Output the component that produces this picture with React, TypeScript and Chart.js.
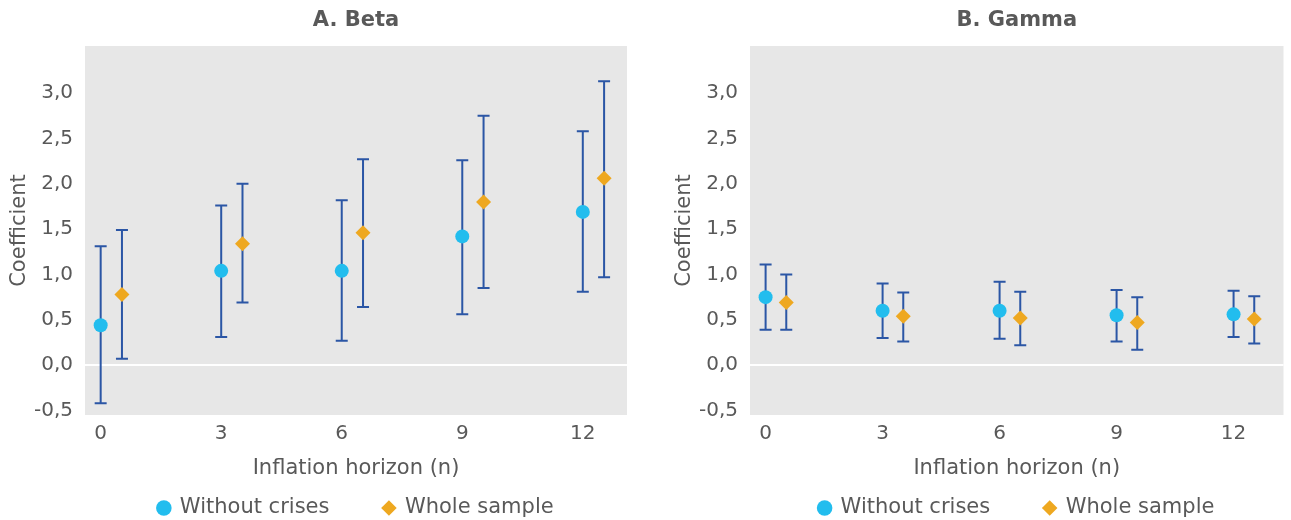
import React, { useEffect, useRef } from 'react';
import { Chart, registerables } from 'chart.js';

Chart.register(...registerables);

// ---- Data ----
const HORIZONS = [0, 3, 6, 9, 12];
const Y_TICKS = [-0.5, 0, 0.5, 1, 1.5, 2, 2.5, 3];
const SERIES_NAMES = ['Without crises', 'Whole sample'];
const X_TITLE = 'Inflation horizon (n)';
const Y_TITLE = 'Coefficient';

const BETA_WITHOUT = [0.44, 1.04, 1.04, 1.42, 1.69];
const BETA_WITHOUT_LOW = [-0.42, 0.31, 0.27, 0.56, 0.81];
const BETA_WITHOUT_HIGH = [1.31, 1.76, 1.82, 2.26, 2.58];
const BETA_WHOLE = [0.78, 1.34, 1.46, 1.8, 2.06];
const BETA_WHOLE_LOW = [0.07, 0.69, 0.64, 0.85, 0.97];
const BETA_WHOLE_HIGH = [1.49, 2.0, 2.27, 2.75, 3.13];

const GAMMA_WITHOUT = [0.75, 0.6, 0.6, 0.55, 0.56];
const GAMMA_WITHOUT_LOW = [0.39, 0.3, 0.29, 0.26, 0.31];
const GAMMA_WITHOUT_HIGH = [1.11, 0.9, 0.92, 0.83, 0.82];
const GAMMA_WHOLE = [0.69, 0.54, 0.52, 0.47, 0.51];
const GAMMA_WHOLE_LOW = [0.39, 0.26, 0.22, 0.17, 0.24];
const GAMMA_WHOLE_HIGH = [1.0, 0.8, 0.81, 0.75, 0.76];

// ---- Styles ----
const WHOLE_OFFSET = 0.53;
const FONT = "'DejaVu Sans', sans-serif";
const TEXT = '#595959';
const BLUE = '#22BDEE';
const ORANGE = '#EEA820';
const ERR = '#2B56A5';
const BG = '#E7E7E7';

const bgPlugin = {
  id: 'plotBg',
  beforeDraw(chart: any) {
    const { ctx, chartArea: a } = chart;
    ctx.save();
    ctx.fillStyle = BG;
    ctx.fillRect(a.left, a.top, a.right - a.left, a.bottom - a.top);
    ctx.restore();
  },
};

const errorBarPlugin = {
  id: 'errorBars',
  beforeDatasetsDraw(chart: any) {
    const { ctx } = chart;
    const x = chart.scales.x;
    const y = chart.scales.y;
    ctx.save();
    ctx.strokeStyle = ERR;
    ctx.lineWidth = 2;
    chart.data.datasets.forEach((ds: any) => {
      ds.data.forEach((pt: any, i: number) => {
        const px = x.getPixelForValue(pt.x);
        const yl = y.getPixelForValue(ds.errLow[i]);
        const yh = y.getPixelForValue(ds.errHigh[i]);
        ctx.beginPath();
        ctx.moveTo(px, yl);
        ctx.lineTo(px, yh);
        ctx.moveTo(px - 6, yl);
        ctx.lineTo(px + 6, yl);
        ctx.moveTo(px - 6, yh);
        ctx.lineTo(px + 6, yh);
        ctx.stroke();
      });
    });
    ctx.restore();
  },
};

const fmt = (v: number) => v.toFixed(1).replace('.', ',');

function makeConfig(
  title: string,
  without: number[], wLow: number[], wHigh: number[],
  whole: number[], hLow: number[], hHigh: number[],
  xMin: number, xMax: number, padRight: number
): any {
  return {
    type: 'scatter',
    data: {
      datasets: [
        {
          label: SERIES_NAMES[0],
          data: HORIZONS.map((h, i) => ({ x: h, y: without[i] })),
          errLow: wLow,
          errHigh: wHigh,
          pointStyle: 'circle',
          pointRadius: 7,
          pointHoverRadius: 7,
          backgroundColor: BLUE,
          borderColor: BLUE,
          borderWidth: 0,
        },
        {
          label: SERIES_NAMES[1],
          data: HORIZONS.map((h, i) => ({ x: h + WHOLE_OFFSET, y: whole[i] })),
          errLow: hLow,
          errHigh: hHigh,
          pointStyle: 'rectRot',
          pointRadius: 7.5,
          pointHoverRadius: 7.5,
          backgroundColor: ORANGE,
          borderColor: ORANGE,
          borderWidth: 0,
        },
      ],
    },
    options: {
      animation: false,
      responsive: true,
      maintainAspectRatio: false,
      layout: { padding: { left: 0, right: padRight, top: 0, bottom: -8.5 } },
      plugins: {
        title: {
          display: true,
          text: title,
          fullSize: false,
          color: TEXT,
          font: { family: FONT, size: 21, weight: 'bold' },
          padding: { top: 8.4, bottom: 12.4 },
        },
        legend: {
          position: 'bottom',
          fullSize: false,
          labels: {
            usePointStyle: true,
            boxWidth: 11,
            boxHeight: 11,
            padding: 54,
            color: TEXT,
            font: { family: FONT, size: 21 },
          },
        },
        tooltip: { enabled: false },
      },
      scales: {
        x: {
          type: 'linear',
          min: xMin,
          max: xMax,
          afterBuildTicks: (s: any) => { s.ticks = HORIZONS.map((v) => ({ value: v })); },
          afterFit: (s: any) => { s.height = 28.5; },
          grid: { display: false, drawTicks: false },
          border: { display: false },
          ticks: { color: TEXT, font: { family: FONT, size: 20 }, padding: 7, maxRotation: 0 },
          title: {
            display: true,
            text: X_TITLE,
            color: TEXT,
            font: { family: FONT, size: 21 },
            padding: { top: 0, bottom: -38 },
          },
        },
        y: {
          min: -0.55,
          max: 3.52,
          afterBuildTicks: (s: any) => { s.ticks = Y_TICKS.map((v) => ({ value: v })); },
          afterFit: (s: any) => { s.width = 85; },
          grid: {
            drawTicks: false,
            color: (c: any) => (c.tick && c.tick.value === 0 ? '#FFFFFF' : 'rgba(0,0,0,0)'),
            lineWidth: 2,
          },
          border: { display: false },
          ticks: {
            color: TEXT,
            font: { family: FONT, size: 20 },
            padding: 12,
            callback: (v: any) => fmt(Number(v)),
          },
          title: {
            display: true,
            text: Y_TITLE,
            color: TEXT,
            font: { family: FONT, size: 21 },
            padding: { top: 7.4, bottom: 0 },
          },
        },
      },
    },
    plugins: [bgPlugin, errorBarPlugin],
  };
}

function Panel(props: { config: any; left: number; width: number }) {
  const ref = useRef<HTMLCanvasElement | null>(null);
  useEffect(() => {
    if (!ref.current) return;
    const chart = new Chart(ref.current, props.config);
    return () => chart.destroy();
  }, []);
  return (
    <div style={{ position: 'absolute', left: props.left, top: 0, width: props.width, height: 520 }}>
      <canvas ref={ref} />
    </div>
  );
}

export default function App() {
  const betaCfg = makeConfig('A. Beta', BETA_WITHOUT, BETA_WITHOUT_LOW, BETA_WITHOUT_HIGH,
    BETA_WHOLE, BETA_WHOLE_LOW, BETA_WHOLE_HIGH, -0.39, 13.1, 18);
  const gammaCfg = makeConfig('B. Gamma', GAMMA_WITHOUT, GAMMA_WITHOUT_LOW, GAMMA_WITHOUT_HIGH,
    GAMMA_WHOLE, GAMMA_WHOLE_LOW, GAMMA_WHOLE_HIGH, -0.4, 13.28, 0);
  return (
    <div style={{ position: 'absolute', left: 0, top: 0, width: 1291, height: 520, background: '#fff', overflow: 'hidden' }}>
      <Panel config={betaCfg} left={0} width={645} />
      <Panel config={gammaCfg} left={665} width={626} />
    </div>
  );
}
